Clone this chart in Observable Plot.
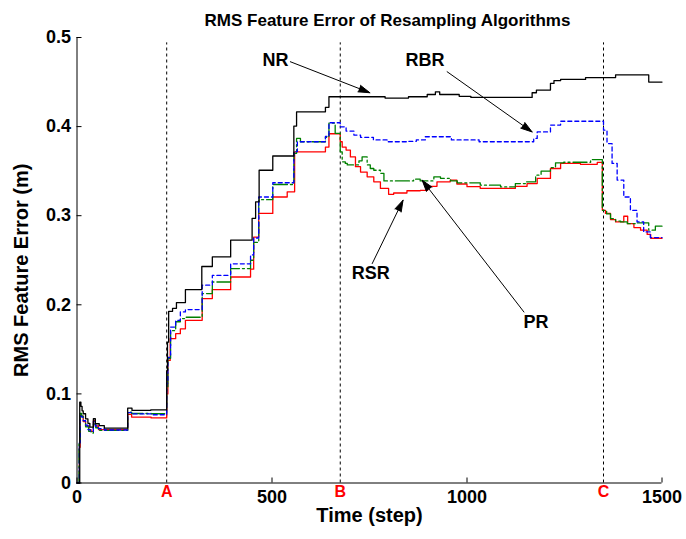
<!DOCTYPE html>
<html>
<head>
<meta charset="utf-8">
<script src="https://cdn.jsdelivr.net/npm/d3@7"></script>
<script src="https://cdn.jsdelivr.net/npm/@observablehq/plot@0.6"></script>
<style>
  body { margin: 0; background: #fff; }
  #chart svg { font-family: "Liberation Sans", Arial, sans-serif; }
</style>
</head>
<body>
<div id="chart"></div>
<script>
// RMS feature error (m) per time step, as [step, error] stair points.
const nrError = [[0,0],[7,0.0908],[10,0.086],[13,0.081],[16,0.0777],[22,0.072],[28,0.067],[33,0.0627],[42,0.0721],[47,0.0665],[57,0.0645],[70,0.0616],[130,0.084],[141,0.0815],[189,0.082],[230,0.126],[232,0.158],[235,0.1927],[245,0.196],[255,0.2025],[278,0.217],[320,0.243],[347,0.2537],[394,0.2725],[449,0.297],[458,0.3155],[467,0.351],[502,0.367],[556,0.4006],[563,0.4166],[637,0.4216],[646,0.4335],[790,0.432],[850,0.4335],[898,0.436],[919,0.439],[930,0.436],[980,0.434],[1010,0.4328],[1167,0.438],[1178,0.441],[1214,0.4485],[1223,0.4515],[1240,0.453],[1304,0.455],[1381,0.458],[1466,0.450],[1500,0.450]];

const rbrError = [[0,0],[6,0.045],[8,0.075],[12,0.074],[16,0.07],[22,0.065],[28,0.06],[34,0.058],[42,0.069],[47,0.064],[55,0.061],[70,0.0595],[130,0.079],[140,0.0775],[190,0.0766],[230,0.112],[233,0.141],[240,0.175],[253,0.1826],[265,0.192],[278,0.1946],[321,0.222],[347,0.233],[394,0.246],[445,0.256],[453,0.275],[466,0.321],[502,0.337],[556,0.372],[565,0.383],[637,0.389],[646,0.4043],[675,0.3998],[690,0.395],[710,0.3905],[727,0.388],[760,0.385],[795,0.383],[850,0.3835],[870,0.385],[893,0.3886],[940,0.3886],[960,0.385],[1031,0.383],[1163,0.383],[1171,0.3867],[1180,0.394],[1214,0.4017],[1240,0.406],[1350,0.396],[1359,0.381],[1372,0.3587],[1385,0.340],[1402,0.321],[1419,0.306],[1436,0.293],[1453,0.2818],[1470,0.2755],[1500,0.2753]];

const prError = [[0,0],[5,0.044],[8,0.078],[12,0.075],[16,0.07],[22,0.063],[30,0.058],[36,0.056],[42,0.066],[48,0.062],[55,0.059],[70,0.059],[130,0.0796],[140,0.078],[190,0.0777],[230,0.108],[233,0.14],[240,0.171],[253,0.181],[265,0.1845],[278,0.186],[321,0.2126],[347,0.2256],[394,0.2407],[445,0.25],[453,0.27],[466,0.318],[502,0.335],[556,0.37],[563,0.3867],[573,0.383],[637,0.388],[646,0.404],[662,0.3924],[675,0.3717],[680,0.3605],[688,0.3587],[693,0.357],[723,0.3616],[731,0.366],[744,0.357],[752,0.353],[761,0.351],[778,0.3474],[787,0.339],[863,0.341],[880,0.339],[915,0.3436],[932,0.342],[958,0.339],[975,0.3369],[1034,0.3343],[1086,0.3323],[1124,0.336],[1150,0.338],[1176,0.3455],[1190,0.35],[1214,0.354],[1227,0.3594],[1248,0.360],[1317,0.363],[1347,0.306],[1358,0.302],[1368,0.2968],[1381,0.294],[1394,0.293],[1411,0.291],[1436,0.2919],[1466,0.2837],[1483,0.2882],[1500,0.2882]];

const rsrError = [[0,0],[6,0.04],[8,0.076],[12,0.075],[16,0.069],[22,0.064],[30,0.06],[36,0.058],[42,0.07],[47,0.064],[55,0.06],[70,0.06],[130,0.077],[140,0.074],[190,0.073],[230,0.10],[233,0.1376],[239,0.162],[253,0.1676],[265,0.173],[278,0.1826],[321,0.207],[347,0.217],[394,0.2312],[445,0.24],[453,0.276],[466,0.3025],[502,0.321],[539,0.3268],[558,0.3717],[637,0.377],[646,0.392],[675,0.383],[680,0.377],[690,0.3736],[701,0.366],[714,0.355],[727,0.349],[744,0.3436],[761,0.338],[778,0.3306],[799,0.324],[812,0.3255],[846,0.328],[880,0.3285],[899,0.333],[923,0.338],[957,0.340],[974,0.3356],[1000,0.3326],[1034,0.3306],[1124,0.333],[1154,0.336],[1180,0.3418],[1214,0.353],[1240,0.3587],[1291,0.3577],[1334,0.3598],[1347,0.306],[1355,0.3025],[1368,0.2957],[1381,0.293],[1402,0.2994],[1412,0.291],[1428,0.2867],[1445,0.2837],[1462,0.279],[1471,0.2747],[1500,0.2747]];

// Event markers along the time axis
const eventSteps = [230, 675, 1350];
const eventLabels = ["A", "B", "C"];
const eventTop = 0.494;

// Axis ticks
const xTicks = [0, 500, 1000, 1500];
const yTicks = [0, 0.1, 0.2, 0.3, 0.4, 0.5];

// Callout labels: text position, arrow start, arrow tip (step, error)
const calloutLabels = ["NR", "RBR", "RSR", "PR"];
const calloutText = [[509, 0.4747], [892, 0.4747], [753, 0.2354], [1177, 0.1803]];
const calloutFrom = [[547, 0.4728], [949, 0.4616], [757, 0.2463], [1146, 0.1919]];
const calloutTip = [[751, 0.438], [1167, 0.394], [836, 0.3174], [885, 0.3399]];

const titleText = "RMS Feature Error of Resampling Algorithms";
const xLabel = "Time (step)";
const yLabel = "RMS Feature Error (m)";

const toRows = (pairs) => pairs.map(([t, v]) => ({t, v}));
const events = eventSteps.map((t, i) => ({t, label: eventLabels[i]}));
const callouts = calloutLabels.map((label, i) => ({
  label,
  tx: calloutText[i][0], ty: calloutText[i][1],
  x1: calloutFrom[i][0], y1: calloutFrom[i][1],
  x2: calloutTip[i][0], y2: calloutTip[i][1]
}));

const font = '"Liberation Sans", Arial, sans-serif';

const chart = Plot.plot({
  width: 686,
  height: 539,
  marginLeft: 76.5,
  marginRight: 24.5,
  marginTop: 37,
  marginBottom: 56.5,
  style: {fontFamily: font, background: "#fff", color: "#000"},
  x: {domain: [0, 1500]},
  y: {domain: [0, 0.5]},
  marks: [
    // dashed event markers
    Plot.ruleX(events, {x: "t", y1: 0, y2: eventTop, stroke: "#000", strokeWidth: 1, strokeDasharray: "3,3"}),
    // error curves
    Plot.line(toRows(rsrError), {x: "t", y: "v", curve: "step-after", stroke: "#ff0000", strokeWidth: 1.3}),
    Plot.line(toRows(prError), {x: "t", y: "v", curve: "step-after", stroke: "#008000", strokeWidth: 1.3, strokeDasharray: "14,3,2,3"}),
    Plot.line(toRows(rbrError), {x: "t", y: "v", curve: "step-after", stroke: "#0000ff", strokeWidth: 1.3, strokeDasharray: "4,3"}),
    Plot.line(toRows(nrError), {x: "t", y: "v", curve: "step-after", stroke: "#000", strokeWidth: 1.3}),
    // axis lines
    Plot.ruleY([0], {stroke: "#000", strokeWidth: 1}),
    Plot.ruleX([0], {stroke: "#000", strokeWidth: 1}),
    Plot.axisX(xTicks, {tickSize: -5, tickPadding: 12, tickFormat: (d) => String(d), fontSize: 18, fontWeight: "bold", label: null}),
    Plot.axisY(yTicks, {tickSize: -5, tickPadding: 11, tickFormat: (d) => String(d), fontSize: 18, fontWeight: "bold", label: null}),
    // event letters
    Plot.text(events, {x: "t", y: 0, text: "label", dy: 9, fill: "#ff0000", fontSize: 16, fontWeight: "bold"}),
    // callout arrows and labels
    Plot.arrow(callouts, {x1: "x1", y1: "y1", x2: "x2", y2: "y2", stroke: "#000", fill: "#000", strokeWidth: 1, headLength: 18, headAngle: 34}),
    Plot.text(callouts, {x: "tx", y: "ty", text: "label", fontSize: 18, fontWeight: "bold", fill: "#000"}),
    // titles
    Plot.text([titleText], {frameAnchor: "top", dx: 18, dy: -24, fontSize: 17, fontWeight: "bold", fill: "#000"}),
    Plot.text([xLabel], {frameAnchor: "bottom", dy: 39, fontSize: 20, fontWeight: "bold", fill: "#000"}),
    Plot.text([yLabel], {frameAnchor: "left", textAnchor: "middle", dx: -55, dy: 10, rotate: -90, fontSize: 20, fontWeight: "bold", fill: "#000"})
  ]
});

document.getElementById("chart").appendChild(chart);
</script>
</body>
</html>
